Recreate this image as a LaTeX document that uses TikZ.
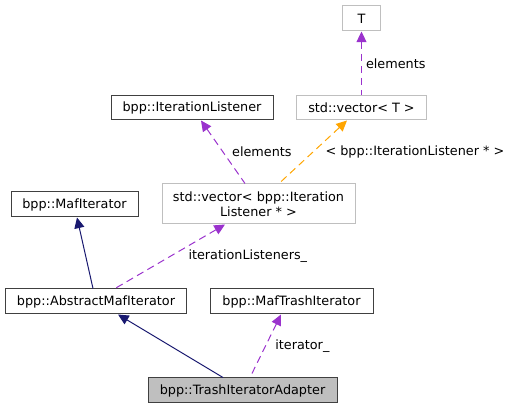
\documentclass[tikz,border=0pt]{standalone}
\usepackage{fontspec}
\setmainfont{DejaVu Sans}
\usetikzlibrary{arrows.meta,positioning,calc}
\definecolor{doxEdgeGrey}{HTML}{BFBFBF}
\definecolor{doxBorder}{HTML}{404040}
\definecolor{doxFocus}{HTML}{BFBFBF}
\definecolor{doxPurple}{HTML}{9A32CD}
\definecolor{doxNavy}{HTML}{191970}
\definecolor{doxOrange}{HTML}{FFA500}
\tikzset{
  dox/base/.style={rectangle, inner sep=0pt, align=center,
    font=\fontsize{9.6}{11.4}\selectfont, line width=0.75pt},
  dox/class/.style={dox/base, draw=doxBorder, fill=white},
  dox/template/.style={dox/base, draw=doxEdgeGrey, fill=white},
  dox/focus/.style={dox/base, draw=doxBorder, fill=doxFocus},
  dox/inherit/.style={{Triangle[length=8pt,width=7.5pt]}-, draw=doxNavy,
    line width=0.75pt},
  dox/usage/.style={{Triangle[length=8pt,width=7.5pt]}-, draw=doxPurple,
    line width=0.75pt, dash pattern=on 5.5pt off 3.5pt},
  dox/instance/.style={{Triangle[length=8pt,width=7.5pt]}-, draw=doxOrange,
    line width=0.75pt, dash pattern=on 5.5pt off 3.5pt},
  dox/label/.style={font=\fontsize{9.6}{11.4}\selectfont, inner sep=0pt,
    anchor=west},
}

\begin{document}
\begin{tikzpicture}[x=0.75pt, y=-0.75pt]
\useasboundingbox (0,0) rectangle (511,409);

% ===== Template nodes =====
\node[dox/template, minimum width=38*0.75pt, minimum height=25*0.75pt]
  (tparam) at (361.5,18.5) {T};
\node[dox/template, minimum width=130*0.75pt, minimum height=24*0.75pt]
  (vecT) at (361.5,108) {std::vector< T >};
\node[dox/template, minimum width=193*0.75pt, minimum height=40*0.75pt]
  (vecListener) at (258.5,204) {std::vector< bpp::Iteration\\Listener * >};

% ===== Class nodes =====
\node[dox/class, minimum width=162*0.75pt, minimum height=24*0.75pt]
  (listener) at (192,108) {bpp::IterationListener};
\node[dox/class, minimum width=127*0.75pt, minimum height=25*0.75pt]
  (mafIt) at (74.5,204.5) {bpp::MafIterator};
\node[dox/class, minimum width=181*0.75pt, minimum height=25*0.75pt]
  (abstractIt) at (96,301.5) {bpp::AbstractMafIterator};
\node[dox/class, minimum width=163*0.75pt, minimum height=25*0.75pt]
  (trashIt) at (291.5,301.5) {bpp::MafTrashIterator};
\node[dox/focus, minimum width=189*0.75pt, minimum height=25*0.75pt]
  (adapter) at (242.5,390.5) {bpp::TrashIteratorAdapter};

% ===== Connectors =====
\draw[dox/usage] (tparam.south) -- (vecT.north)
  node[midway, dox/label, xshift=3pt] {elements};
\draw[dox/usage] ($(listener.south)+(9,0)$) -- ($(vecListener.north)+(-13.5,0)$)
  node[midway, dox/label, xshift=6.5pt] {elements};
\draw[dox/instance] ($(vecT.south)+(-14.5,0)$) -- ($(vecListener.north)+(20.5,0)$)
  node[midway, dox/label, xshift=9pt] {< bpp::IterationListener * >};
\draw[dox/inherit] ($(mafIt.south)+(2.5,0)$) -- ($(abstractIt.north)+(-3,0)$);
\draw[dox/usage] ($(vecListener.south)+(-33.5,0)$) -- ($(abstractIt.north)+(19,0)$)
  node[midway, dox/label, xshift=13.5pt] {iterationListeners\_};
\draw[dox/inherit] ($(abstractIt.south)+(22,0)$) -- ($(adapter.north)+(-19.5,0)$);
\draw[dox/usage] ($(trashIt.south)+(-10.5,0)$) -- ($(adapter.north)+(7.5,0)$)
  node[midway, dox/label, xshift=7pt] {iterator\_};

\end{tikzpicture}
\end{document}
